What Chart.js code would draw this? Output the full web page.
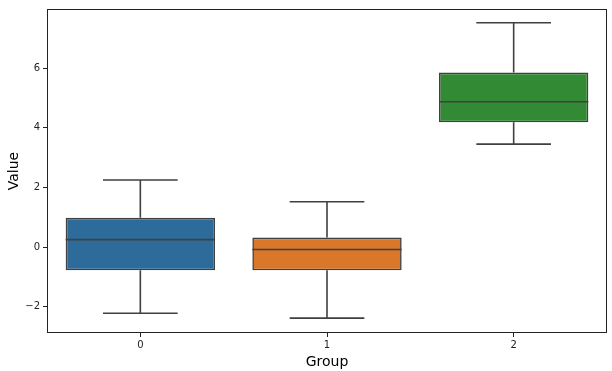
<!DOCTYPE html>
<html>
<head>
<meta charset="utf-8">
<script src="https://cdn.jsdelivr.net/npm/chart.js@4"></script>
<style>
  html, body { margin: 0; padding: 0; background: #fff; }
  #wrap { width: 612px; height: 371px; }
</style>
</head>
<body>
<div id="wrap"><canvas id="box-chart"></canvas></div>
<script>
// box plot values
const groups = ['0', '1', '2'];
const whiskerLow = [-2.22, -2.38, 3.45];
const q1 = [-0.78, -0.78, 4.18];
const median = [0.25, -0.08, 4.87];
const q3 = [0.98, 0.32, 5.85];
const whiskerHigh = [2.25, 1.52, 7.52];
const boxColors = ['#2d6b9a', '#d9772a', '#338a35'];
const yTicks = [-2, 0, 2, 4, 6];

const lineColor = '#404040';

// whiskers, caps, median and frame
const boxPlotLines = {
    id: 'boxPlotLines',
    afterDatasetsDraw(chart) {
        const ctx = chart.ctx;
        const x = chart.scales.x;
        const y = chart.scales.y;
        const meta = chart.getDatasetMeta(0);
        ctx.save();
        ctx.strokeStyle = lineColor;
        ctx.lineWidth = 1.6;
        groups.forEach((g, i) => {
            const bar = meta.data[i];
            const cx = x.getPixelForValue(i);
            const half = bar.width / 2;
            const capHalf = half / 2;
            ctx.beginPath();
            // upper whisker
            ctx.moveTo(cx, y.getPixelForValue(q3[i]));
            ctx.lineTo(cx, y.getPixelForValue(whiskerHigh[i]));
            ctx.moveTo(cx - capHalf, y.getPixelForValue(whiskerHigh[i]));
            ctx.lineTo(cx + capHalf, y.getPixelForValue(whiskerHigh[i]));
            // lower whisker
            ctx.moveTo(cx, y.getPixelForValue(q1[i]));
            ctx.lineTo(cx, y.getPixelForValue(whiskerLow[i]));
            ctx.moveTo(cx - capHalf, y.getPixelForValue(whiskerLow[i]));
            ctx.lineTo(cx + capHalf, y.getPixelForValue(whiskerLow[i]));
            // median
            ctx.moveTo(cx - half, y.getPixelForValue(median[i]));
            ctx.lineTo(cx + half, y.getPixelForValue(median[i]));
            ctx.stroke();
        });
        const a = chart.chartArea;
        ctx.strokeStyle = '#222';
        ctx.lineWidth = 1;
        ctx.strokeRect(a.left + 0.5, a.top + 0.5, a.right - a.left - 1, a.bottom - a.top - 1);
        ctx.restore();
    }
};

new Chart(document.getElementById('box-chart'), {
    type: 'bar',
    data: {
        labels: groups,
        datasets: [{
            data: groups.map((g, i) => [q1[i], q3[i]]),
            backgroundColor: boxColors,
            borderColor: lineColor,
            borderWidth: 1.6,
            borderSkipped: false,
            categoryPercentage: 0.8,
            barPercentage: 1
        }]
    },
    options: {
        responsive: true,
        maintainAspectRatio: false,
        animation: false,
        layout: { padding: { top: 6, right: 5, left: 0, bottom: 0 } },
        plugins: { legend: { display: false }, tooltip: { enabled: false } },
        scales: {
            x: {
                grid: { offset: false, drawOnChartArea: false, drawTicks: true, tickLength: 4, color: '#222' },
                border: { display: false },
                ticks: { color: '#222', font: { family: 'DejaVu Sans', size: 10 }, padding: 2 },
                title: { display: true, text: 'Group', color: '#000', font: { family: 'DejaVu Sans', size: 14 }, padding: { top: 2, bottom: 0 } },
                afterFit(axis) { axis.height = 38; }
            },
            y: {
                min: -2.88,
                max: 7.98,
                afterBuildTicks(axis) { axis.ticks = yTicks.map(v => ({ value: v })); },
                grid: { drawOnChartArea: false, drawTicks: true, tickLength: 4, color: '#222' },
                border: { display: false },
                ticks: {
                    color: '#222',
                    font: { family: 'DejaVu Sans', size: 10 },
                    padding: 3,
                    callback: v => String(v).replace('-', '\u2212')
                },
                title: { display: true, text: 'Value', color: '#000', font: { family: 'DejaVu Sans', size: 14 }, padding: { top: 6, bottom: 0 } },
                afterFit(axis) { axis.width = 47; }
            }
        }
    },
    plugins: [boxPlotLines]
});
</script>
</body>
</html>
